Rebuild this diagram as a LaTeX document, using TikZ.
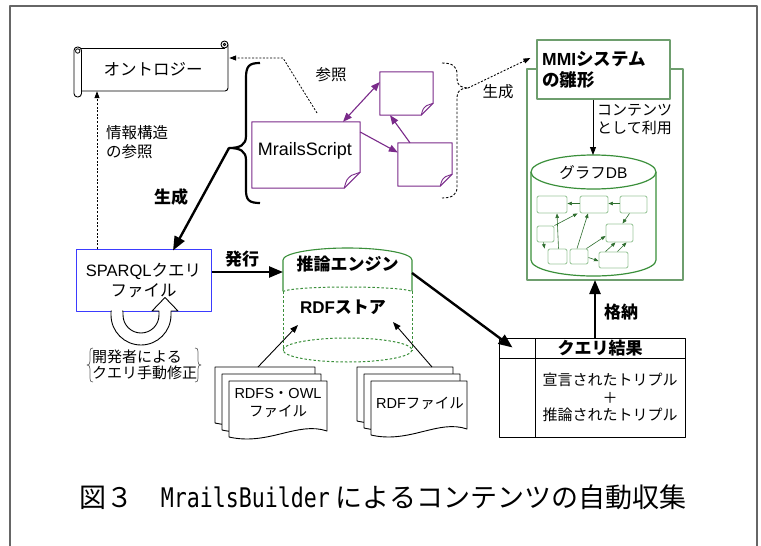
\documentclass[tikz,border=0pt]{standalone}
\usepackage{fontspec}
\setmainfont{Noto Sans CJK JP}
\newfontfamily\lat{Liberation Sans}
\newfontfamily\capmono{DejaVu Sans Mono}[FakeStretch=0.8]
\usetikzlibrary{arrows.meta}
\definecolor{pur}{HTML}{7A2A8A}
\definecolor{grn}{HTML}{3A8F3A}
\definecolor{mgrn}{HTML}{6E9E6E}
\definecolor{lgrn}{HTML}{9CC79C}
\definecolor{dgrn}{HTML}{2E6E2E}
\definecolor{blu}{HTML}{3B3BFF}
\definecolor{frm}{HTML}{666666}
\tikzset{
  reg/.style={font=\fontsize{15}{18}\selectfont, inner sep=0, align=center},
  bld/.style={font=\bfseries\fontsize{17}{21}\selectfont, inner sep=0, align=center},
  thick arrow/.style={line width=2.4, -{Triangle[length=14pt,width=11pt]}},
  thin arrow/.style={line width=0.9, -{Triangle[length=8pt,width=6pt]}},
  dotline/.style={line width=0.8, dash pattern=on 2pt off 1.6pt},
  parrow/.style={pur, line width=1.1, -{Triangle[length=9pt,width=7pt]}},
  notebox/.style={inner sep=0},
  gb/.style={draw=lgrn, rounded corners=2pt, line width=0.9, fill=white, inner sep=0},
  ga/.style={dgrn, line width=0.6, -{Triangle[length=4.5pt,width=3.5pt]}},
  docs/.style={line width=0.9, fill=white},
}
\newcommand\dognote[2]{%
  \draw[pur, line width=1, fill=white] (#1.north west) -- (#1.north east) -- ([yshift=#2]#1.south east) -- ([xshift=-#2]#1.south east) -- (#1.south west) -- cycle;
  \draw[pur, line width=0.9] ([yshift=#2]#1.south east) -- ([xshift={-0.55*#2}, yshift={0.8*#2}]#1.south east) .. controls ([xshift={-0.85*#2}, yshift={0.55*#2}]#1.south east) .. ([xshift=-#2]#1.south east);}
\newcommand\docpath[4]{% x1 y1 x2 y2
  \draw[docs] (#1,#2) -- (#3,#2) -- (#3,#4-3) .. controls ({#3-0.3*(#3-#1)},#4-13) and ({#1+0.4*(#3-#1)},#4+12) .. (#1,#4+3) -- cycle;}
\begin{document}
\begin{tikzpicture}[x=1pt,y=-1pt,line join=round]
\useasboundingbox (0,0) rectangle (761,546);
\fill[white] (0,0) rectangle (761,546);
% frame
\draw[frm, line width=1.1] (10,546) -- (10,6) -- (757,6) -- (757,546);

% ---------------- ontology scroll
\draw[line width=0.9] (81,91) -- (225,91) arc[start angle=90,end angle=0,radius=3] -- (228,44.5);
\draw[line width=0.9] (81,48) -- (224.5,48);
\draw[line width=0.9, fill=white] (224.5,44.5) circle[radius=3.5];
\draw[line width=0.9] (224.5,44.5) circle[radius=1.2];
\draw[line width=0.9, fill=white, rounded corners=3.5] (74,47) rectangle (81.5,97);
\draw[line width=0.8] (77.7,51) circle[radius=2.2];
\node[reg, font=\fontsize{16.5}{19}\selectfont, minimum width=146pt, minimum height=44pt] (onto) at (153,69) {オントロジー};

% ---------------- SPARQL box
\node[draw=blu, line width=1, fill=white, minimum width=135pt, minimum height=62pt, inner sep=0,
      font=\fontsize{16.5}{20}\selectfont, align=center] (sp) at (143.5,280) {{\lat SPARQL}クエリ\\ファイル};

% info reference dotted arrow
\coordinate (s1) at (97,249);
\draw[dotline, -{Triangle[length=7pt,width=5pt]}] (s1) -- (s1 |- onto.south);
\node[reg, align=left, anchor=north west, font=\fontsize{15.5}{19}\selectfont] (inf) at (106,125) {情報構造\\の参照};

% ---------------- script group
\node[notebox, minimum width=108pt, minimum height=66pt, font=\lat\fontsize{18}{21}\selectfont] (ms) at (306,155) {};
\dognote{ms}{16pt}
\node[font=\lat\fontsize{18}{21}\selectfont, inner sep=0] (mstext) at (305,151) {MrailsScript};
\node[notebox, minimum width=53pt, minimum height=43pt] (n2) at (406.5,93.5) {};
\dognote{n2}{12pt}
\node[notebox, minimum width=54pt, minimum height=43pt] (n3) at (425,164.5) {};
\dognote{n3}{12pt}
\draw[parrow, {Triangle[length=9pt,width=7pt]}-{Triangle[length=9pt,width=7pt]}] ([xshift=37pt]ms.north) -- ([yshift=11.5pt]n2.west);
\draw[parrow] ([yshift=23pt]ms.east) -- ([yshift=12pt]n3.west);
\draw[parrow] ([xshift=-15pt]n3.north) -- ([xshift=-16.5pt]n2.south);

% thick brace
\draw[line width=2.2] (260,63) .. controls (249,63) and (246,66) .. (246,78) -- (246,136)
   .. controls (246,145) and (240,148) .. (229,148)
   .. controls (240,148) and (246,151) .. (246,160) -- (246,190)
   .. controls (246,200) and (249,203) .. (260,203);
\coordinate (bt) at (229,148);
\draw[thick arrow] (bt) -- ([xshift=29.5pt, yshift=-2pt]sp.north);
\node[bld] (gen1) at (171,197) {生成};

% reference dotted line
\coordinate (r0) at (317,113);
\draw[dotline, -{Triangle[length=7pt,width=5pt]}] (r0) -- (283,58) -- ([yshift=11pt, xshift=3pt]onto.east);
\node[reg, font=\fontsize{15.5}{19}\selectfont] (ref) at (331,75) {参照};

% dashed brace right
\draw[line width=0.9, dash pattern=on 2.5pt off 1.8pt] (442,63) .. controls (452,63) and (457,66) .. (457,74) -- (457,79)
   .. controls (457,85) and (461,88) .. (468,88)
   .. controls (461,88) and (457,91) .. (457,97) -- (457,187)
   .. controls (457,195) and (452,198) .. (442,198);
\coordinate (bt2) at (468,88);

% ---------------- right green area
\draw[mgrn, line width=1.1, fill=white] (527,69) rectangle (683,280);
\node[draw=mgrn, line width=1.1, fill=white, minimum width=133pt, minimum height=59pt, inner sep=0] (mmi) at (603.5,69.5) {};
\node[bld, align=left, anchor=west, font=\bfseries\fontsize{17.5}{21}\selectfont] (mmit) at (542,70) {{\lat\bfseries MMI}システム\\の雛形};
\draw[dotline, line width=0.9, -{Triangle[length=7pt,width=5pt]}] (bt2) -- ([xshift=-6pt, yshift=11.5pt]mmi.west);
\node[reg, font=\fontsize{15.5}{19}\selectfont] (gen2) at (498,92) {生成};

% graph DB cylinder
\fill[white] (531,172) -- (531,260) arc[start angle=180,end angle=0,x radius=62.5,y radius=16] -- (656,172) -- cycle;
\draw[grn, line width=1.2] (531,172) -- (531,260) arc[start angle=180,end angle=0,x radius=62.5,y radius=16] -- (656,172);
\draw[grn, line width=1.2, fill=white] (593.5,172) ellipse[x radius=62.5, y radius=17];
\node[reg, font=\fontsize{15.5}{19}\selectfont] (dbt) at (593.5,173) {グラフ{\lat DB}};
\coordinate (dbtop) at (593,155);
\draw[thin arrow] ([xshift=-10.5pt]mmi.south) -- (dbtop);
\node[reg, align=left, anchor=north west, font=\fontsize{15}{18.5}\selectfont] (use) at (597,104) {コンテンツ\\として利用};

% DB inner graph
\node[gb, minimum width=30pt, minimum height=17pt] (A) at (552,204.5) {};
\node[gb, minimum width=28pt, minimum height=17pt] (B) at (594,204.5) {};
\node[gb, minimum width=27pt, minimum height=17pt] (C) at (633.5,204.5) {};
\node[gb, minimum width=17pt, minimum height=16pt] (D) at (545.5,234) {};
\node[gb, minimum width=27pt, minimum height=18pt] (E) at (619.5,233) {};
\node[gb, minimum width=19pt, minimum height=15pt] (F) at (557.5,256.5) {};
\node[gb, minimum width=18pt, minimum height=15pt] (G) at (579,256.5) {};
\node[gb, minimum width=29pt, minimum height=16pt] (H) at (613.5,260) {};
\draw[ga] ([yshift=1pt]B.west) -- ([yshift=1pt]A.east);
\draw[ga] ([yshift=1pt]C.west) -- ([yshift=1pt]B.east);
\draw[ga] ([xshift=-4pt]C.south) -- ([xshift=3pt]E.north);
\draw[ga] (D.north east) -- ([xshift=-2pt]B.south west);
\draw[ga] ([xshift=-2pt]D.south) -- ([xshift=-3pt]F.north west);
\draw[ga] ([xshift=1pt]F.north) -- ([xshift=5pt]A.south);
\draw[ga] ([xshift=-2pt]G.north) -- ([xshift=-6pt]B.south);
\draw[ga] ([xshift=-2pt]G.north east) -- ([yshift=-3pt]E.west);
\draw[ga] ([yshift=-1pt]G.east) -- ([yshift=-1pt]H.west);
\draw[ga] ([xshift=-8pt]H.north) -- ([xshift=-4pt]E.south);
\draw[ga] ([xshift=4pt]H.north) -- ([xshift=7pt]E.south);

% ---------------- query result box
\node[draw, line width=1, fill=white, minimum width=186pt, minimum height=99pt, inner sep=0] (qr) at (592,387.5) {};
\draw[line width=1] (535,338) -- (535,437);
\draw[line width=1] (499,358) -- (685,358);
\node[bld] (qrt) at (600,348) {クエリ結果};
\node[reg, font=\fontsize{15}{17.5}\selectfont] (qrb) at (610,397.5) {宣言されたトリプル\\＋\\推論されたトリプル};
\draw[thick arrow] ([xshift=3pt]qr.north) -- ([xshift=3pt]qr.north |- 0,280);
\node[bld] (store) at (621,312) {格納};

% ---------------- inference engine cylinder
\fill[white] (283,291) -- (283,260) arc[start angle=180,end angle=360,x radius=64.5,y radius=12] -- (412,350) arc[start angle=0,end angle=180,x radius=64.5,y radius=12] -- cycle;
\draw[grn, line width=1.1] (283,291) -- (283,260) arc[start angle=180,end angle=360,x radius=64.5,y radius=12] -- (412,291);
\draw[grn, line width=1, dash pattern=on 2.5pt off 2pt] (283,292) arc[start angle=180,end angle=360,x radius=64.5,y radius=5];
\draw[grn, line width=1, dash pattern=on 2.5pt off 2pt] (283,291) -- (283,350) (412,291) -- (412,350);
\draw[grn, line width=1, dash pattern=on 2.5pt off 2pt] (347.5,350) ellipse[x radius=64.5, y radius=12];
\node[bld] (engt) at (347.5,264) {推論エンジン};
\node[bld] (rdfst) at (343,307) {{\lat\bfseries RDF}ストア};
\coordinate (engL) at (283,272);
\coordinate (engR) at (412,273);
\draw[thick arrow] (sp.east |- engL) -- (engL);
\node[bld] (issue) at (242,259) {発行};
\draw[thick arrow] (engR) -- ([xshift=14pt, yshift=-10pt]qr.north west);

% self-modification hollow arrow
\draw[line width=0.9, fill=white] (111,311) -- (111,315) arc[start angle=180,end angle=0,radius=30] -- (171,311) -- (178,311) -- (165,297.5) -- (152,311) -- (159,311) -- (159,315) arc[start angle=0,end angle=180,radius=18] -- (123,311) -- cycle;
\draw[white, line width=1.4] (111.8,311) -- (122.2,311);
\draw[black!60, line width=0.7] (93,348) .. controls (90.5,348) and (90,349) .. (90,352) -- (90,361) .. controls (90,364) and (89,365) .. (87,365) .. controls (89,365) and (90,366) .. (90,369) -- (90,378) .. controls (90,381) and (90.5,382) .. (93,382);
\draw[black!60, line width=0.7] (195,348) .. controls (197.5,348) and (198,349) .. (198,352) -- (198,361) .. controls (198,364) and (199,365) .. (201,365) .. controls (199,365) and (198,366) .. (198,369) -- (198,378) .. controls (198,381) and (197.5,382) .. (195,382);
\node[reg, align=left, anchor=west, font=\fontsize{15}{16.5}\selectfont] (dev) at (92,365) {開発者による\\クエリ手動修正};

% ---------------- document stacks
\docpath{215}{367}{315}{420}
\docpath{222}{374}{321}{427}
\docpath{229}{381}{327}{434}
\node[reg, font=\fontsize{14.5}{17.5}\selectfont] (rdfs) at (278,403) {{\lat RDFS}・{\lat OWL}\\ファイル};
\docpath{357}{367}{453}{418}
\docpath{364}{374}{460}{425}
\docpath{371}{381}{467}{432}
\node[reg, font=\fontsize{14.5}{17.5}\selectfont] (rdff) at (420,403) {{\lat RDF}ファイル};
\coordinate (rdfsTop) at (258,367);
\coordinate (rdfTop) at (432,367);
\coordinate (storeL) at (298,325);
\coordinate (storeR) at (393,322);
\draw[thin arrow] (rdfsTop) -- (storeL);
\draw[thin arrow] (rdfTop) -- (storeR);

% ---------------- caption
\node[font=\fontsize{27}{32}\selectfont, inner sep=0] (cap) at (383,497) {図３　{\capmono MrailsBuilder} によるコンテンツの自動収集};
\end{tikzpicture}
\end{document}
